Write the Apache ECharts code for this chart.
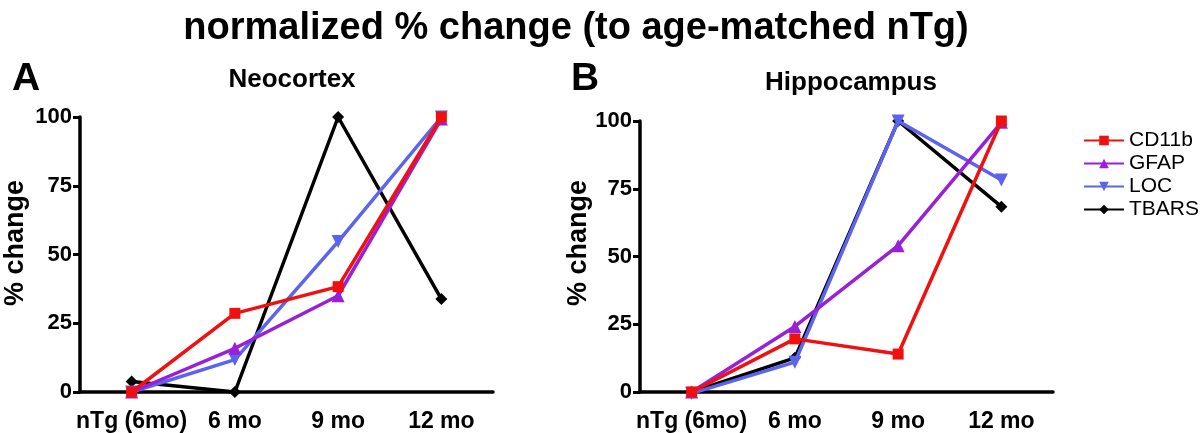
<!DOCTYPE html>
<html><head><meta charset="utf-8">
<script src="https://cdn.jsdelivr.net/npm/echarts@6/dist/echarts.min.js"></script>
<style>html,body{margin:0;padding:0;background:#fff}#c{width:1200px;height:433px}</style>
</head><body><div id="c"></div>
<script>
const categories = ['nTg (6mo)', '6 mo', '9 mo', '12 mo'];
const yTicks = [0, 25, 50, 75, 100];
const seriesNames = ['CD11b', 'GFAP', 'LOC', 'TBARS'];
// Neocortex
const neoCD11b = [0, 28.6, 38.3, 100];
const neoGFAP = [0, 15.9, 35.0, 99.3];
const neoLOC = [0, 11.8, 54.7, 100];
const neoTBARS = [3.8, 0, 100, 33.8];
// Hippocampus
const hipCD11b = [0, 19.6, 14.0, 100];
const hipGFAP = [0, 24.2, 54.0, 99.5];
const hipLOC = [-0.5, 11.0, 100, 78.2];
const hipTBARS = [0, 12.6, 100, 68.4];

const colors = ['#f01010', '#9a1fd8', '#5b63f0', '#000000'];
const symbols = ['rect', 'triangle', 'triangle', 'diamond'];
const rot = [0, 0, 180, 0];
const sizes = [11, 13, 13, 12];
const FONT = 'Liberation Sans, Arial, sans-serif';

function mkAxes(gi) {
  return {
    x: {
      type: 'category', gridIndex: gi, data: categories, boundaryGap: true,
      axisLine: {lineStyle: {color: '#000', width: 3.5}},
      axisTick: {alignWithLabel: true, length: 7, lineStyle: {color: '#000', width: 3}},
      axisLabel: {color: '#000', fontFamily: FONT, fontWeight: 'bold', fontSize: 23, margin: 18, interval: 0}
    },
    y: {
      type: 'value', gridIndex: gi, min: 0, max: 100, interval: 25,
      axisLine: {show: true, lineStyle: {color: '#000', width: 3.5}},
      axisTick: {show: true, length: 7, lineStyle: {color: '#000', width: 3}},
      splitLine: {show: false},
      axisLabel: {color: '#000', fontFamily: FONT, fontWeight: 'bold', fontSize: 22, margin: 8,
        formatter: v => yTicks.includes(v) ? String(v) : ''}
    }
  };
}
const a0 = mkAxes(0), a1 = mkAxes(1);

function mkSeries(data, gi) {
  return data.map((d, i) => ({
    name: seriesNames[i], type: 'line', xAxisIndex: gi, yAxisIndex: gi, data: d,
    symbol: symbols[i], symbolRotate: rot[i], symbolSize: sizes[i], showSymbol: true,
    clip: false, animation: false,
    lineStyle: {color: colors[i], width: 3.5},
    itemStyle: {color: colors[i]},
    z: 10 - i
  }));
}

function yName(cx, cy) {
  return {
    type: 'text', x: cx, y: cy, rotation: Math.PI / 2,
    style: {text: '% change', fontFamily: FONT, fontWeight: 'bold', fontSize: 27, fill: '#000',
      textAlign: 'center', textVerticalAlign: 'middle'}
  };
}

const chart = echarts.init(document.getElementById('c'), null, {renderer: 'canvas'});
chart.setOption({
  backgroundColor: '#fff',
  animation: false,
  color: colors,
  title: [
    {text: 'normalized % change (to age-matched nTg)', left: 571, textAlign: 'center', top: 5,
      textStyle: {fontFamily: FONT, fontWeight: 'bold', fontSize: 38, color: '#000'}},
    {text: 'A', left: 7, top: 55, textStyle: {fontFamily: FONT, fontWeight: 'bold', fontSize: 39, color: '#000'}},
    {text: 'B', left: 566, top: 55, textStyle: {fontFamily: FONT, fontWeight: 'bold', fontSize: 39, color: '#000'}},
    {text: 'Neocortex', left: 287, textAlign: 'center', top: 62, textStyle: {fontFamily: FONT, fontWeight: 'bold', fontSize: 26, color: '#000'}},
    {text: 'Hippocampus', left: 846, textAlign: 'center', top: 65, textStyle: {fontFamily: FONT, fontWeight: 'bold', fontSize: 26, color: '#000'}}
  ],
  graphic: [yName(16, 243), yName(579, 243)],
  legend: {
    orient: 'vertical', left: 1083, top: 130, padding: 0, itemWidth: 40, itemHeight: 12, itemGap: 2,
    data: seriesNames,
    textStyle: {fontFamily: FONT, fontSize: 21, color: '#000'}
  },
  grid: [
    {left: 80, right: 707, top: 117, bottom: 41},
    {left: 640, right: 147, top: 121, bottom: 40}
  ],
  xAxis: [a0.x, a1.x],
  yAxis: [a0.y, a1.y],
  series: [
    ...mkSeries([neoCD11b, neoGFAP, neoLOC, neoTBARS], 0),
    ...mkSeries([hipCD11b, hipGFAP, hipLOC, hipTBARS], 1)
  ]
});
</script></body></html>
